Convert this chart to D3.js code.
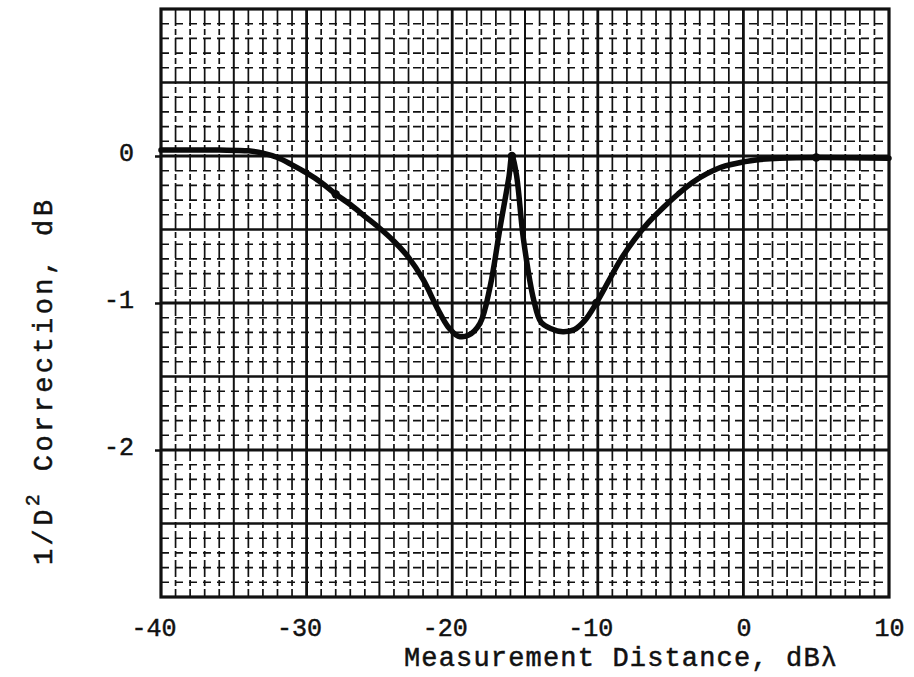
<!DOCTYPE html>
<html>
<head>
<meta charset="utf-8">
<script src="https://cdn.jsdelivr.net/npm/d3@7"></script>
<style>
  html, body { margin: 0; padding: 0; background: #fff; }
  svg { display: block; }
  text { font-family: "Liberation Mono", "DejaVu Sans Mono", monospace; fill: #111; stroke: #111; stroke-width: 0.5; }
</style>
</head>
<body>
<script>
// ---- data ----
const curveX = [-40, -36, -34, -33, -32, -31, -30, -29, -28, -27, -26, -25, -24, -23, -22, -21, -20.3, -19.6, -18.9, -18.1, -17.4, -16.7, -16.1, -15.9, -15.6, -15.1, -14.4, -13.9, -13.2, -12.4, -11.6, -10.9, -10.1, -9.2, -8.4, -7.5, -6.5, -5.5, -4.5, -3.5, -2.5, -1.5, 0, 1, 2.5, 5, 10];
const curveY = [0.04, 0.04, 0.035, 0.02, -0.01, -0.06, -0.115, -0.18, -0.26, -0.33, -0.41, -0.49, -0.58, -0.69, -0.84, -1.04, -1.16, -1.225, -1.22, -1.14, -0.89, -0.48, -0.14, 0, -0.12, -0.57, -0.98, -1.13, -1.175, -1.195, -1.18, -1.12, -1.0, -0.84, -0.70, -0.57, -0.45, -0.35, -0.26, -0.18, -0.12, -0.075, -0.04, -0.025, -0.015, -0.01, -0.015];
const markX = [-28, -15.9, -10.1, 5];
const markY = [-0.26, 0.0, -1.0, -0.01];
const xTickValues = [-40, -30, -20, -10, 0, 10];
const yTickValues = [0, -1, -2];
const xTitle = "Measurement Distance, dB\u03bb";
const yTitleMain = "1/D";
const yTitleSup = "2";
const yTitleRest = " Correction, dB";

// ---- layout ----
const W = 914, H = 677;
const L = 161, R = 889, T = 9, B = 597;

const svg = d3.select("body").append("svg").attr("width", W).attr("height", H);

const x = d3.scaleLinear().domain([-40, 10]).range([L, R]);
const y = d3.scaleLinear().domain([-3, 1]).range([B, T]);

const grid = svg.append("g");

// vertical grid lines (every 1 unit)
d3.range(-39, 10, 1).forEach(v => {
  const major = v % 10 === 0, mid = v % 5 === 0;
  grid.append("line")
    .attr("x1", x(v)).attr("x2", x(v)).attr("y1", T).attr("y2", B)
    .attr("stroke", "#111")
    .attr("stroke-width", major ? 2.8 : (mid ? 2.0 : 1.7))
    .attr("stroke-dasharray", (major || mid) ? null : "17,3,6,3");
});
// horizontal grid lines (every 0.1 unit)
d3.range(-29, 10, 1).forEach(k => {
  const v = k / 10;
  const major = k % 10 === 0, mid = k % 5 === 0;
  grid.append("line")
    .attr("x1", L).attr("x2", R).attr("y1", y(v)).attr("y2", y(v))
    .attr("stroke", "#111")
    .attr("stroke-width", major ? 2.8 : (mid ? 2.4 : 1.6))
    .attr("stroke-dasharray", (major || mid) ? null : "8,6");
});
// frame
svg.append("rect").attr("x", L).attr("y", T).attr("width", R - L).attr("height", B - T)
  .attr("fill", "none").attr("stroke", "#111").attr("stroke-width", 3.2);

// axes (ticks + labels)
const xAxis = d3.axisBottom(x).tickValues(xTickValues).tickSize(0).tickPadding(0)
  .tickFormat(d => (d < 0 ? "-" : "") + Math.abs(d));
const gx = svg.append("g").attr("transform", `translate(0,${B})`).call(xAxis);
gx.select(".domain").remove();
gx.selectAll("text")
  .attr("font-size", 25)
  .attr("dy", 0).attr("y", 39)
  .attr("dx", d => d < 0 ? -7.5 : 0)
  .attr("fill", "#111");

const yAxis = d3.axisLeft(y).tickValues(yTickValues).tickSize(6).tickPadding(21)
  .tickFormat(d => (d < 0 ? "-" : "") + Math.abs(d));
const gy = svg.append("g").attr("transform", `translate(${L},0)`).call(yAxis);
gy.select(".domain").remove();
gy.selectAll("line").attr("stroke", "#111").attr("stroke-width", 2.5);
gy.selectAll("text").attr("font-size", 25).attr("dy", "0.3em").attr("y", -3).attr("fill", "#111");

// titles
svg.append("text")
  .attr("x", 404).attr("y", 666)
  .attr("font-size", 27)
  .attr("textLength", 433).attr("lengthAdjust", "spacing")
  .text(xTitle);

const yt = svg.append("text")
  .attr("transform", "translate(52,565) rotate(-90)")
  .attr("font-size", 27)
  .attr("letter-spacing", 3.4);
yt.append("tspan").text(yTitleMain);
yt.append("tspan").attr("font-size", 20).attr("dy", -13).text(yTitleSup);
yt.append("tspan").attr("dy", 13).text(yTitleRest);

// curve
const pts = curveX.map((v, i) => [v, curveY[i]]);
const line = d3.line().x(d => x(d[0])).y(d => y(d[1])).curve(d3.curveCatmullRom.alpha(0.5));
svg.append("path").datum(pts)
  .attr("d", line)
  .attr("fill", "none").attr("stroke", "#0a0a0a")
  .attr("stroke-width", 5.5).attr("stroke-linejoin", "round").attr("stroke-linecap", "round");

svg.append("g").selectAll("circle").data(markX.map((v, i) => [v, markY[i]]))
  .join("circle")
  .attr("cx", d => x(d[0])).attr("cy", d => y(d[1])).attr("r", 4.2)
  .attr("fill", "#0a0a0a");
</script>
</body>
</html>
